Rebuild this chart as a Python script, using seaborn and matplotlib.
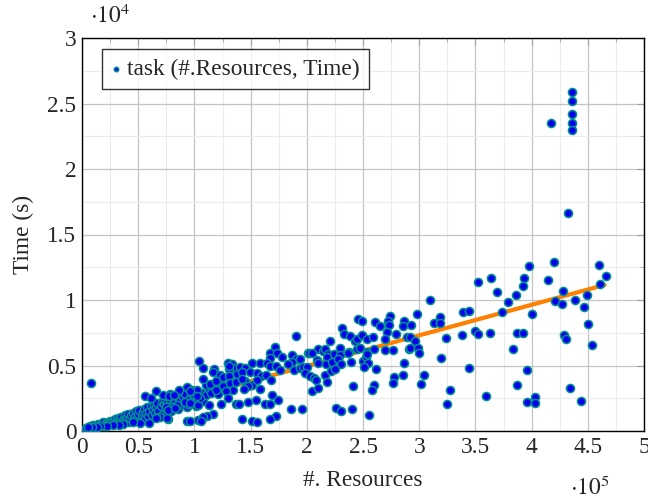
import matplotlib
matplotlib.use('Agg')
import matplotlib.pyplot as plt
import seaborn as sns
import pandas as pd
from matplotlib.ticker import MultipleLocator

#%% data (resources, seconds)
res_tail = [435700, 435700, 435700, 435700, 435700, 417500, 432000, 398000, 419600, 460000,
            466000, 393000, 392000, 415000, 461000, 428000, 449000, 421000, 427000, 439000,
            447000, 400000, 450000, 392000, 428500, 430600, 454000, 396000, 434000, 403000,
            395600, 403000, 444000]
time_tail = [25900, 25190, 24200, 23500, 23000, 23500, 16660, 12600, 12880, 12700,
             11800, 11700, 11050, 11500, 11200, 10700, 10400, 9900, 9700, 10000,
             9500, 8900, 8170, 7450, 7330, 7020, 6600, 4660, 3280, 2570,
             2240, 2110, 2260]

res_high = [352000, 364000, 369000, 386000, 379000, 374000, 310000, 298000, 293000, 313000,
            318500, 318500, 338700, 344600, 292000, 296500, 323500, 337800, 350000, 352000,
            363000, 386700, 292000, 298700, 299800, 383500, 319000, 344000, 304000, 302000,
            387000, 327000, 359400, 325000]
time_high = [11400, 11700, 10600, 10400, 9870, 9100, 10000, 8900, 8100, 8270,
             8730, 8270, 9060, 9160, 7200, 6900, 7100, 7350, 7660, 7430,
             7450, 7500, 6300, 6300, 5930, 6260, 5600, 4800, 4300, 3590,
             3490, 3150, 2670, 2060]

res_mid = [274000, 245300, 248800, 231600, 261000, 265500, 272000, 273400, 286500, 286000,
           271600, 279000, 233400, 238700, 243000, 244700, 249000, 253500, 259000, 270000,
           289000, 220400, 210000, 214000, 216000, 229500, 237500, 244700, 247600, 253500,
           259500, 270000, 277000, 291000, 201700, 204600, 219000, 224000, 229500, 236400,
           217700, 208800, 210000, 217000, 222000, 228000, 230400, 239300, 250300, 252700,
           253300, 254500, 251000, 261600, 286500, 194000, 194000, 197000, 200000, 198700,
           203000, 206000, 208500, 216500, 221500, 225000, 218000, 204600, 210000, 241000,
           260000, 257700, 278000, 277000, 286000, 196000, 225700, 230700, 240000, 255000]
time_mid = [8800, 8570, 8400, 7900, 8300, 8000, 8400, 8100, 8370, 8000,
            7560, 7400, 7380, 7250, 6870, 7000, 7300, 7050, 7150, 7000,
            7150, 6900, 6260, 6130, 6260, 6360, 6030, 6260, 6360, 6050,
            6280, 6200, 6200, 6260, 5950, 5950, 5850, 5900, 5800, 5930,
            5630, 5420, 5210, 5110, 5270, 5520, 5090, 5270, 5370, 5630,
            5900, 5170, 4860, 4760, 5210, 5500, 4830, 4860, 4900, 4400,
            4220, 4050, 3900, 4250, 4580, 4760, 3740, 3050, 3280, 3430,
            3530, 3130, 4100, 3690, 4250, 1700, 1780, 1500, 1660, 1250]

res_low = [190000, 171700, 167500, 173800, 167500, 178000, 186800, 190400, 200800, 187000,
           189000, 183500, 104000, 107700, 130000, 133700, 134000, 130800, 140600, 145000,
           151200, 158600, 164600, 167500, 173000, 176000, 117400, 116800, 122500, 125400,
           131000, 137600, 142600, 149500, 155700, 159300, 163400, 108000, 114000, 119500,
           125700, 131700, 136700, 142600, 151200, 155400, 168000, 158400, 148000, 144000,
           134600, 128000, 119000, 102000, 96000, 102000, 113300, 124000, 130000, 136700,
           139700, 148000, 154500, 162800, 167500, 169000, 174600, 173000, 167000, 186000,
           142000, 151500, 155400, 116300, 111000, 107400, 105600, 96000, 131000]
time_low = [7250, 6440, 5930, 5980, 5600, 5650, 5780, 5500, 5980, 5240,
            4660, 5090, 5320, 4790, 5170, 5090, 4810, 4730, 4910, 4830,
            5210, 5170, 5170, 4960, 5000, 4660, 4730, 4500, 4250, 4100,
            4200, 4370, 4530, 4480, 4430, 4200, 4300, 3950, 3590, 3790,
            3430, 3660, 3720, 3970, 3530, 3900, 3900, 3180, 3430, 3180,
            3130, 3030, 3150, 3150, 3080, 2670, 1960, 2080, 2500, 2080,
            2080, 2240, 2390, 2060, 2060, 2750, 2370, 1150, 890, 1680,
            890, 790, 690, 1270, 1120, 1090, 760, 760, 4960]

res_small = [8300, 66100, 56000, 61400, 72300, 78600, 86300, 93400, 97600, 94000,
             84200, 79800, 74500, 69400, 65800, 76200, 59600, 93700, 103500, 51600,
             45700, 36700, 33200, 27300, 22500, 16000, 13000, 8600, 5000, 77400,
             82000, 65500, 75300, 76800, 82700, 91600, 96000, 103500, 105000]
time_small = [3640, 3080, 2650, 2500, 2770, 2800, 3130, 3380, 3130, 2060,
              1980, 1800, 1800, 1050, 1090, 890, 590, 760, 840, 590,
              660, 510, 460, 460, 400, 380, 330, 280, 280, 2700,
              2750, 1020, 970, 1600, 1730, 2240, 2100, 1980, 2500]

# dense band near the origin
res_band = [3000, 4000, 6000, 7000, 9000, 10000, 11000, 12000, 14000, 15000,
            17000, 18000, 19000, 20000, 21000, 23000, 24000, 25000, 26000, 28000,
            29000, 30000, 31000, 32000, 33000, 34000, 35000, 36000, 37000, 38000,
            39000, 40000, 41000, 42000, 43000, 44000, 45000, 46000, 47000, 48000,
            49000, 50000, 51000, 52000, 53000, 54000, 55000, 56000, 57000, 58000,
            59000, 60000, 61000, 62000, 63000, 64000, 65000, 66000, 67000, 68000,
            70000, 71000, 72000, 73000, 74000, 75000, 76000, 78000, 79000, 80000,
            81000, 83000, 84000, 85000, 87000, 88000, 89000, 90000, 92000, 93000,
            95000, 97000, 99000, 100000, 101000, 104000, 106000, 108000, 110000, 112000,
            115000, 118000, 121000, 124000, 127000, 110000, 140000, 145000]
time_band = [150, 250, 200, 350, 300, 450, 250, 400, 500, 350,
             550, 450, 650, 400, 600, 700, 550, 800, 650, 750,
             900, 600, 850, 1000, 750, 950, 1100, 800, 1000, 1200,
             900, 1100, 1300, 700, 1000, 1250, 1400, 900, 1150, 1500,
             1000, 1300, 1600, 800, 1200, 1450, 1700, 1000, 1350, 1800,
             1150, 1550, 1900, 1250, 1700, 2000, 1400, 1800, 2100, 1500,
             1900, 2200, 1300, 2050, 2400, 1650, 2150, 2350, 1500, 2000,
             2500, 2200, 2650, 1700, 2400, 2900, 2000, 2600, 2800, 1800,
             2450, 2900, 2300, 2750, 1900, 2600, 2900, 2300, 2750, 3300,
             2900, 3400, 2800, 3500, 3250, 3500, 4100, 3800]

# fitted trend line end points
fit_res = [2000, 465000]
fit_time = [350, 11150]

x_ticks = [0, 50000, 100000, 150000, 200000, 250000, 300000, 350000, 400000, 450000, 500000]
x_labels = ['0', '0.5', '1', '1.5', '2', '2.5', '3', '3.5', '4', '4.5', '5']
y_ticks = [0, 5000, 10000, 15000, 20000, 25000, 30000]
y_labels = ['0', '0.5', '1', '1.5', '2', '2.5', '3']

tasks = pd.DataFrame({
    'res': res_band + res_small + res_low + res_mid + res_high + res_tail,
    'time': time_band + time_small + time_low + time_mid + time_high + time_tail,
})
fit = pd.DataFrame({'res': fit_res, 'time': fit_time})

#%% plot
sns.set_style('white')
plt.rcParams['font.family'] = ['Liberation Serif', 'DejaVu Serif']
plt.rcParams['mathtext.fontset'] = 'stix'
fs = 16.8

fig = plt.figure(figsize=(6.48, 5), dpi=100)
ax = fig.add_axes([82 / 648, 69 / 500, 562 / 648, 393 / 500])

sns.lineplot(data=fit, x='res', y='time', ax=ax, color='#ff8000', linewidth=3,
             zorder=2, legend=False)
sns.scatterplot(data=tasks, x='res', y='time', ax=ax, s=34, color='#0000ee',
                edgecolor='#009090', linewidth=1.1, zorder=3,
                label='task (#.Resources, Time)')

ax.set_xlim(0, 500000)
ax.set_ylim(0, 30000)
ax.set_xticks(x_ticks)
ax.set_xticklabels(x_labels)
ax.set_yticks(y_ticks)
ax.set_yticklabels(y_labels)
ax.xaxis.set_minor_locator(MultipleLocator(25000))
ax.yaxis.set_minor_locator(MultipleLocator(2500))

ax.grid(which='major', color='#c4c4c4', linewidth=0.9, zorder=0)
ax.grid(which='minor', color='#ebebeb', linewidth=0.8, zorder=0)
ax.set_axisbelow(True)
ax.tick_params(which='both', direction='in', top=True, right=True, color='#a0a0a0',
               labelsize=fs, pad=4)
ax.tick_params(which='major', length=5)
ax.tick_params(which='minor', length=3)
for sp in ax.spines.values():
    sp.set_color('black')
    sp.set_linewidth(1.0)

ax.set_xlabel('#. Resources', fontsize=fs, labelpad=9)
ax.set_ylabel('Time (s)', fontsize=fs, labelpad=10)

ax.text(0.014, 1.025, r'$\cdot10^{4}$', transform=ax.transAxes, fontsize=fs,
        ha='left', va='bottom')
ax.text(0.868, -0.163, r'$\cdot10^{5}$', transform=ax.transAxes, fontsize=fs,
        ha='left', va='baseline')

leg = ax.legend(loc='upper left', bbox_to_anchor=(0.035, 0.971), borderaxespad=0,
                fontsize=fs, frameon=True, fancybox=False, edgecolor='black',
                handlelength=0.4, handletextpad=0.3, borderpad=0.4, markerscale=0.55)
leg.get_frame().set_linewidth(1.0)

fig.savefig('out.png', dpi=100)
